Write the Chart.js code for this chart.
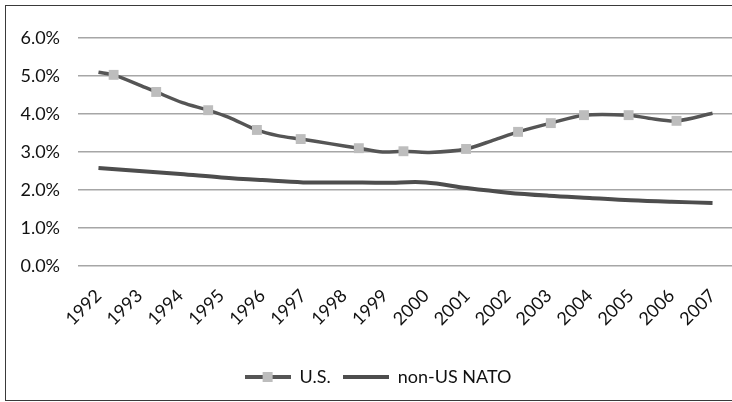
<!DOCTYPE html>
<html>
<head>
<meta charset="utf-8">
<script src="https://cdn.jsdelivr.net/npm/chart.js@4.4.0/dist/chart.umd.min.js"></script>
<style>
  html, body { margin: 0; padding: 0; width: 732px; height: 402px; overflow: hidden; background: #fff; }
  #frame { position: absolute; left: 5px; top: 5px; width: 740px; height: 396px; border: 1px solid #3a3a3a; box-sizing: border-box; }
  #wrap { position: absolute; left: 0; top: 0; width: 740px; height: 402px; }
</style>
</head>
<body>
<div id="frame"></div>
<div id="wrap"><canvas id="chart"></canvas></div>
<script>
// --- DATA ---
const years = [1992, 1993, 1994, 1995, 1996, 1997, 1998, 1999, 2000, 2001, 2002, 2003, 2004, 2005, 2006, 2007];

// non-US NATO, one value per year (%)
const natoValues = [2.58, 2.50, 2.42, 2.33, 2.26, 2.20, 2.20, 2.19, 2.20, 2.05, 1.93, 1.85, 1.79, 1.73, 1.69, 1.66];

// U.S. line (x in years, y in %)
const usLineX = [1992.00, 1992.37, 1993.14, 1993.41, 1994.05, 1994.68, 1995.17, 1995.87, 1996.38, 1996.94, 1997.65,
                 1998.36, 1998.94, 1999.45, 2000.08, 2000.98, 2001.67, 2002.25, 2003.05, 2003.86, 2004.95, 2005.44, 2006.12, 2007.00];
const usLineY = [5.10, 5.03, 4.70, 4.58, 4.30, 4.10, 3.92, 3.58, 3.43, 3.34, 3.22,
                 3.10, 3.00, 3.02, 2.99, 3.08, 3.32, 3.53, 3.76, 3.97, 3.97, 3.89, 3.82, 4.02];

// U.S. square markers
const usMarkX = [1992.37, 1993.41, 1994.68, 1995.87, 1996.94, 1998.36, 1999.45, 2000.98, 2002.25, 2003.05, 2003.86, 2004.95, 2006.12];
const usMarkY = [5.03, 4.58, 4.10, 3.58, 3.34, 3.10, 3.02, 3.08, 3.53, 3.76, 3.97, 3.97, 3.82];

const yTicks = [0, 1, 2, 3, 4, 5, 6];
const seriesNames = ['U.S.', 'non-US NATO'];

// --- COLORES ---
const lineUS = '#555555';
const lineNATO = '#4d4d4d';
const markerUS = '#bdbdbd';
const textColor = '#111111';
const fontFamily = 'Lato, "Liberation Sans", sans-serif';

// legend symbols (line + marker as in the Excel legend)
function legendSymbol(withMarker) {
    const c = document.createElement('canvas');
    c.width = 46; c.height = 12;
    const g = c.getContext('2d');
    g.strokeStyle = withMarker ? lineUS : lineNATO;
    g.lineWidth = 4;
    g.beginPath(); g.moveTo(0, 6); g.lineTo(46, 6); g.stroke();
    if (withMarker) {
        g.fillStyle = markerUS;
        g.fillRect(18, 1, 10, 10);
    }
    return c;
}

// the legend sits a bit right of the canvas centre in the original
const legendShift = {
    id: 'legendShift',
    afterLayout(chart) {
        chart.legend.left += 8;
        chart.legend.right += 8;
    }
};

const zip = (xs, ys) => xs.map((x, i) => ({ x: x, y: ys[i] }));

new Chart(document.getElementById('chart'), {
    type: 'line',
    data: {
        datasets: [{
            label: seriesNames[0] + ' markers',
            data: zip(usMarkX, usMarkY),
            showLine: false,
            pointStyle: 'rect',
            pointRadius: 7,
            pointBorderWidth: 0,
            pointBackgroundColor: markerUS,
            order: 0
        }, {
            label: seriesNames[0],
            data: zip(usLineX, usLineY),
            borderColor: lineUS,
            borderWidth: 3.5,
            tension: 0.3,
            pointRadius: 0,
            order: 1
        }, {
            label: seriesNames[1],
            data: zip(years, natoValues),
            borderColor: lineNATO,
            borderWidth: 4,
            tension: 0.35,
            pointRadius: 0,
            order: 2
        }]
    },
    options: {
        responsive: true,
        maintainAspectRatio: false,
        animation: false,
        layout: { padding: { top: 38, left: 0, right: 0, bottom: 6 } },
        plugins: {
            tooltip: { enabled: false },
            legend: {
                position: 'bottom',
                labels: {
                    usePointStyle: true,
                    pointStyleWidth: 46,
                    boxHeight: 18,
                    padding: 12,
                    color: textColor,
                    font: { family: fontFamily, size: 18 },
                    generateLabels: () => [
                        { text: seriesNames[0], pointStyle: legendSymbol(true), fontColor: textColor, datasetIndex: 1 },
                        { text: seriesNames[1], pointStyle: legendSymbol(false), fontColor: textColor, datasetIndex: 2 }
                    ]
                }
            }
        },
        scales: {
            x: {
                type: 'linear',
                min: 1991.5,
                max: 2007.5,
                afterBuildTicks: s => { s.ticks = years.map(v => ({ value: v })); },
                afterFit: s => { s.height = 90; },
                grid: { display: false },
                border: { display: false },
                ticks: {
                    minRotation: 45,
                    maxRotation: 45,
                    padding: 11,
                    color: textColor,
                    font: { family: fontFamily, size: 18 },
                    callback: v => String(v)
                }
            },
            y: {
                min: 0,
                max: 6,
                afterBuildTicks: s => { s.ticks = yTicks.map(v => ({ value: v })); },
                afterFit: s => { s.width = 78; },
                grid: { color: '#a6a6a6', lineWidth: 1.5, drawTicks: false },
                border: { display: false },
                ticks: {
                    padding: 18,
                    color: textColor,
                    font: { family: fontFamily, size: 18 },
                    callback: v => v.toFixed(1) + '%'
                }
            }
        }
    },
    plugins: [legendShift]
});
</script>
</body>
</html>
